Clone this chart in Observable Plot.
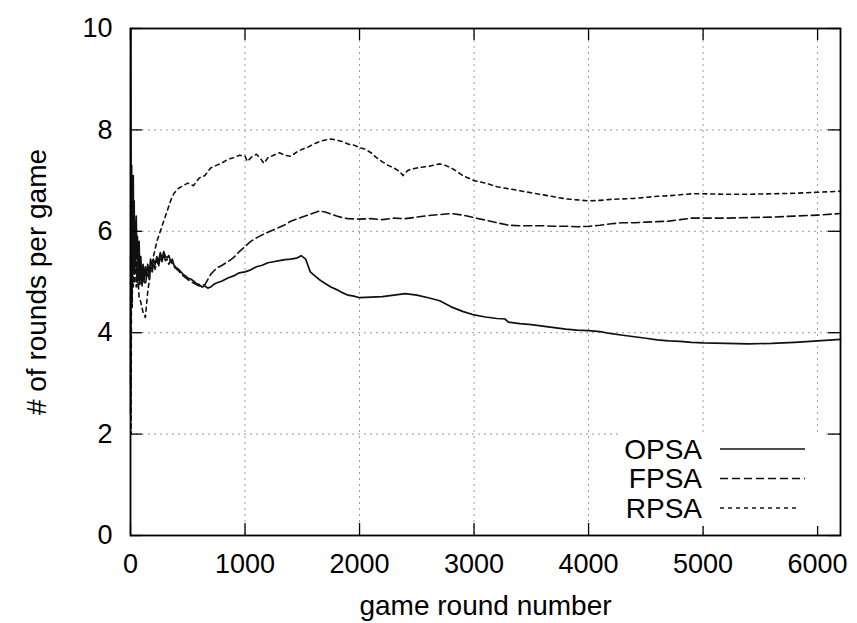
<!DOCTYPE html>
<html>
<head>
<meta charset="utf-8">
<script src="https://cdn.jsdelivr.net/npm/d3@7"></script>
<script src="https://cdn.jsdelivr.net/npm/@observablehq/plot@0.6"></script>
<style>
  body { margin: 0; background: #fff; }
  #wrap { position: relative; width: 857px; height: 623px; font-family: "Liberation Sans", Arial, sans-serif; }
  #legend { position: absolute; left: 0; top: 0; pointer-events: none; }
</style>
</head>
<body>
<div id="wrap"></div>
<script>
// ---- data ----
const xTicks = [0, 1000, 2000, 3000, 4000, 5000, 6000];
const yTicks = [0, 2, 4, 6, 8, 10];
const seriesNames = ["OPSA", "FPSA", "RPSA"];

const opsaRounds = [1,3,6,10,13,16,20,24,28,32,36,40,45,50,55,60,67,75,82,90,100,110,120,130,140,150,165,175,190,200,215,230,245,260,275,290,305,320,335,350,365,380,400,420,440,460,480,500,525,550,575,600,625,650,675,700,725,750,775,800,850,900,950,1000,1050,1100,1150,1200,1250,1300,1350,1400,1450,1490,1530,1570,1620,1660,1700,1750,1800,1850,1900,1950,2000,2100,2200,2300,2400,2500,2600,2700,2800,2900,3000,3100,3200,3270,3300,3400,3500,3600,3700,3800,3900,4000,4100,4200,4300,4400,4500,4600,4700,4800,4900,5000,5200,5400,5600,5800,6000,6200];
const opsaValues = [2.4,10,5.2,7.3,4.6,6.9,5.4,7.1,5.8,6.6,5.3,6.2,5.6,6.3,5.5,5.9,5.2,5.8,5.1,5.5,5.0,5.35,5.05,5.3,5.1,5.35,5.15,5.45,5.3,5.45,5.35,5.5,5.4,5.58,5.45,5.6,5.5,5.48,5.52,5.4,5.45,5.33,5.28,5.25,5.2,5.15,5.12,5.08,5.06,5.02,4.97,4.95,4.9,4.92,4.88,4.9,4.95,4.98,5.0,5.02,5.08,5.12,5.18,5.2,5.24,5.3,5.33,5.38,5.4,5.42,5.44,5.45,5.47,5.52,5.45,5.2,5.1,5.03,4.97,4.9,4.85,4.79,4.74,4.72,4.69,4.7,4.71,4.74,4.77,4.74,4.69,4.63,4.51,4.42,4.35,4.31,4.28,4.27,4.21,4.18,4.16,4.13,4.1,4.07,4.05,4.04,4.02,3.98,3.95,3.92,3.89,3.86,3.84,3.83,3.81,3.8,3.79,3.78,3.79,3.81,3.84,3.87];

const fpsaRounds = [1,4,8,12,16,20,25,30,35,40,45,50,55,60,67,75,82,90,100,110,120,130,140,150,165,175,190,200,215,230,245,260,275,290,305,320,335,350,380,420,460,500,550,600,650,700,750,800,850,900,950,1000,1050,1100,1150,1200,1250,1300,1350,1400,1450,1500,1550,1600,1650,1700,1750,1800,1850,1900,2000,2100,2200,2300,2400,2500,2600,2700,2800,2900,3000,3100,3200,3300,3400,3500,3600,3700,3800,3900,4000,4100,4200,4300,4400,4500,4600,4700,4800,4900,5000,5200,5400,5600,5800,6000,6200];
const fpsaValues = [3.0,7.2,4.8,6.6,5.0,6.2,5.2,5.9,5.0,5.7,5.3,5.7,5.0,5.4,4.9,5.3,4.95,5.2,4.9,5.15,5.0,4.95,5.1,5.2,5.05,5.3,5.2,5.38,5.25,5.45,5.3,5.5,5.4,5.55,5.42,5.45,5.35,5.42,5.3,5.22,5.12,5.05,4.98,4.92,4.95,5.15,5.27,5.33,5.4,5.48,5.6,5.7,5.8,5.87,5.93,5.98,6.03,6.08,6.13,6.2,6.24,6.28,6.32,6.36,6.4,6.38,6.34,6.3,6.27,6.25,6.24,6.25,6.23,6.26,6.25,6.28,6.31,6.33,6.35,6.32,6.27,6.22,6.17,6.12,6.11,6.11,6.11,6.1,6.1,6.09,6.1,6.12,6.15,6.17,6.17,6.18,6.19,6.2,6.23,6.26,6.26,6.26,6.27,6.28,6.3,6.32,6.35];

const rpsaRounds = [1,5,10,15,20,25,30,40,50,60,75,90,110,130,150,175,200,230,260,290,320,350,380,420,460,500,550,600,650,700,750,800,850,900,950,1000,1020,1060,1100,1140,1165,1200,1250,1300,1350,1400,1450,1500,1550,1600,1650,1700,1750,1800,1850,1900,1950,2000,2050,2100,2150,2200,2250,2300,2350,2380,2420,2500,2600,2700,2750,2800,2850,2900,2950,3000,3100,3200,3300,3400,3500,3600,3700,3800,3900,4000,4100,4200,4300,4400,4500,4600,4700,4800,4900,5000,5200,5400,5600,5800,6000,6200];
const rpsaValues = [5.5,2.0,6.5,4.5,5.8,4.9,5.2,5.6,4.9,5.3,4.7,4.6,4.4,4.3,4.8,5.2,5.5,5.8,6.0,6.2,6.4,6.6,6.75,6.85,6.9,6.95,6.9,7.05,7.1,7.25,7.3,7.35,7.42,7.45,7.5,7.48,7.38,7.47,7.52,7.42,7.34,7.45,7.5,7.55,7.5,7.48,7.56,7.62,7.66,7.72,7.77,7.8,7.82,7.8,7.77,7.72,7.7,7.65,7.62,7.55,7.45,7.37,7.3,7.25,7.18,7.1,7.2,7.25,7.28,7.33,7.3,7.25,7.18,7.1,7.05,7.0,6.95,6.88,6.84,6.8,6.76,6.72,6.68,6.64,6.62,6.6,6.61,6.63,6.64,6.65,6.67,6.69,6.7,6.72,6.74,6.74,6.73,6.73,6.74,6.75,6.77,6.79];

// ---- build tables ----
const toRows = (rounds, values, name) => rounds.map((r, i) => ({round: r, value: values[i], series: name}));
const opsa = toRows(opsaRounds, opsaValues, seriesNames[0]);
const fpsa = toRows(fpsaRounds, fpsaValues, seriesNames[1]);
const rpsa = toRows(rpsaRounds, rpsaValues, seriesNames[2]);

const W = 857, H = 623;
const mL = 130, mR = 17, mT = 28, mB = 88;
const plotW = W - mL - mR, plotH = H - mT - mB;
const dashes = {OPSA: null, FPSA: "8,4", RPSA: "4,4"};
const lineColor = "#111";
const font = "'Liberation Sans', Arial, sans-serif";
const gridStyle = {stroke: "#9a9a9a", strokeOpacity: 1, strokeWidth: 1, strokeDasharray: "2,4"};

const chart = Plot.plot({
  width: W, height: H,
  marginLeft: mL, marginRight: mR, marginTop: mT, marginBottom: mB,
  style: {fontFamily: font, fontSize: "27px", color: "#000", background: "#fff"},
  x: {domain: [0, 6200]},
  y: {domain: [0, 10]},
  marks: [
    Plot.gridX(xTicks, gridStyle),
    Plot.gridY(yTicks, gridStyle),
    Plot.line(opsa, {x: "round", y: "value", stroke: lineColor, strokeWidth: 1.7}),
    Plot.line(fpsa, {x: "round", y: "value", stroke: lineColor, strokeWidth: 1.6, strokeDasharray: dashes.FPSA}),
    Plot.line(rpsa, {x: "round", y: "value", stroke: lineColor, strokeWidth: 1.6, strokeDasharray: dashes.RPSA}),
    // inward ticks, mirrored on all four sides
    Plot.tickX(xTicks, {x: d => d, stroke: "#000", strokeWidth: 1.3, insetTop: plotH - 12}),
    Plot.tickX(xTicks, {x: d => d, stroke: "#000", strokeWidth: 1.3, insetBottom: plotH - 12}),
    Plot.tickY(yTicks, {y: d => d, stroke: "#000", strokeWidth: 1.3, insetRight: plotW - 12}),
    Plot.tickY(yTicks, {y: d => d, stroke: "#000", strokeWidth: 1.3, insetLeft: plotW - 12}),
    Plot.frame({stroke: "#000", strokeWidth: 1.8}),
    Plot.axisX(xTicks, {anchor: "bottom", tickSize: 0, tickPadding: 18, tickFormat: d3.format("d"), fontSize: 27, label: "game round number", labelAnchor: "center", labelOffset: 79, labelArrow: "none"}),
    Plot.axisY(yTicks, {anchor: "left", tickSize: 0, tickPadding: 18, tickFormat: d3.format("d"), fontSize: 27, label: "# of rounds per game", labelAnchor: "center", labelOffset: 104, labelArrow: "none"})
  ]
});

const wrap = document.getElementById("wrap");
wrap.appendChild(chart);
// axis titles slightly larger than tick labels
chart.querySelectorAll("[aria-label='x-axis label'] text, [aria-label='y-axis label'] text").forEach(t => t.setAttribute("font-size", "28"));

// ---- legend overlay (gnuplot-style key, bottom right) ----
const ns = "http://www.w3.org/2000/svg";
const leg = document.createElementNS(ns, "svg");
leg.setAttribute("id", "legend");
leg.setAttribute("width", W);
leg.setAttribute("height", H);
const bg = document.createElementNS(ns, "rect");
bg.setAttribute("x", 620); bg.setAttribute("y", 432);
bg.setAttribute("width", 204); bg.setAttribute("height", 94);
bg.setAttribute("fill", "#fff");
leg.appendChild(bg);
seriesNames.forEach((name, i) => {
  const cy = 449 + i * 29.5;
  const t = document.createElementNS(ns, "text");
  t.setAttribute("x", 702); t.setAttribute("y", cy);
  t.setAttribute("text-anchor", "end");
  t.setAttribute("dominant-baseline", "central");
  t.setAttribute("font-family", font);
  t.setAttribute("font-size", "28px");
  t.textContent = name;
  leg.appendChild(t);
  const l = document.createElementNS(ns, "line");
  l.setAttribute("x1", 720); l.setAttribute("x2", i === 2 ? 799 : 805);
  l.setAttribute("y1", cy); l.setAttribute("y2", cy);
  l.setAttribute("stroke", lineColor);
  l.setAttribute("stroke-width", 1.4);
  if (dashes[name]) l.setAttribute("stroke-dasharray", dashes[name]);
  leg.appendChild(l);
});
wrap.appendChild(leg);
</script>
</body>
</html>
